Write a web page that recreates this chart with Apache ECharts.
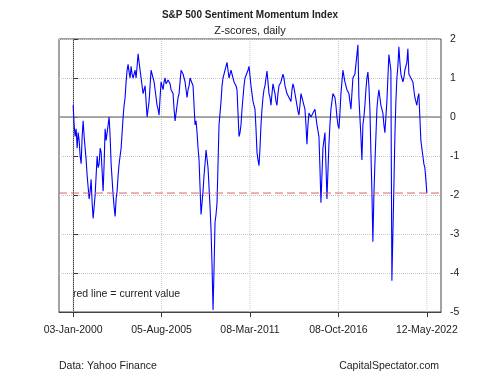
<!DOCTYPE html>
<html>
<head>
<meta charset="utf-8">
<script src="https://cdn.jsdelivr.net/npm/echarts@6/dist/echarts.min.js"></script>
<style>
  html, body { margin: 0; padding: 0; background: #fff; }
  #chart { width: 500px; height: 375px; }
</style>
</head>
<body>
<div id="chart"></div>
<script>
// z-score readings, evenly spaced trading days from 03-Jan-2000 to 12-May-2022
const zScores = [
  // 2000 - 2005
  0.3, -0.2, -0.5, -0.3, -0.8, -0.4, -0.6, -1.0, -1.2, -0.5,
  -0.1, -0.5, -0.8, -1.1, -1.5, -1.8, -2.1, -1.9, -1.6, -2.2,
  -2.6, -2.3, -2.0, -1.5, -1.0, -1.3, -1.2, -0.8, -0.9, -1.4,
  -1.9, -1.2, -0.3, -0.6, -0.4, -0.2, 0.0, -0.5, -1.2, -1.6,
  -2.0, -2.3, -2.55, -2.1, -1.9, -1.5, -1.2, -1.0, -0.8, -0.4,
  0.0, 0.3, 0.5, 0.9, 1.2, 1.35, 1.15, 1.0, 1.3, 1.1,
  1.0, 1.1, 1.2, 1.0, 1.3, 1.62, 1.4, 1.2, 1.0, 0.8,
  0.6, 0.7, 0.8, 0.4, 0.0, 0.2, 0.4, 0.8, 1.2, 1.1,
  1.0, 0.9, 0.7, 0.5, 0.3, 0.2, 0.05, 0.5, 0.9, 0.8,
  // 2005 - 2011
  0.7, 0.9, 1.0, 0.85, 0.8, 0.95, 1.0, 0.85, 0.7, 0.75,
  0.6, 0.2, -0.1, 0.1, 0.3, 0.5, 0.6, 0.9, 1.2, 1.15,
  1.1, 1.0, 0.9, 0.7, 0.5, 0.7, 0.8, 1.0, 1.05, 0.95,
  0.8, 0.3, -0.2, -0.1, -0.4, -0.8, -1.1, -1.8, -2.5, -2.2,
  -1.9, -1.5, -1.2, -0.85, -0.9, -1.3, -1.8, -2.3, -2.9, -3.8,
  -4.95, -3.9, -2.7, -2.5, -2.2, -1.2, -0.2, 0.1, 0.4, 0.8,
  1.0, 1.1, 1.2, 1.3, 1.4, 1.2, 1.0, 1.1, 1.2, 1.1,
  1.0, 0.9, 0.9, 0.8, 0.7, 0.1, -0.5, -0.4, -0.2, 0.2,
  0.5, 0.8, 1.0, 1.05, 1.0, 1.2, 1.3, 1.05,
  // 2011 - 2016
  0.8, 0.6, 0.4, 0.3, 0.2, -0.3, -0.9, -1.1, -1.25, -0.8,
  -0.2, 0.2, 0.5, 0.7, 0.8, 1.0, 1.18, 0.9, 0.6, 0.5,
  0.3, 0.6, 0.85, 0.8, 0.6, 0.4, 0.3, 0.6, 0.8, 0.85,
  0.9, 1.0, 1.1, 1.0, 0.8, 0.7, 0.6, 0.55, 0.5, 0.45,
  0.4, 0.7, 0.85, 0.75, 0.6, 0.45, 0.3, 0.15, 0.05, 0.3,
  0.6, 0.5, 0.4, 0.3, 0.2, -0.2, -0.7, -0.2, 0.1, 0.05,
  0.0, 0.05, 0.1, 0.15, 0.2, 0.0, -0.2, -0.35, -0.5, -1.3,
  -2.2, -1.5, -0.8, -0.6, -0.4, -1.2, -2.1, -1.4, -0.7, -0.2,
  0.2, 0.4, 0.6, 0.6, 0.5, 0.3,
  // 2016 - 2022
  0.0, -0.2, -0.3, 0.1, 0.6, 0.9, 1.2, 1.05, 0.9, 0.8,
  0.7, 0.65, 0.6, 0.4, 0.2, 0.6, 1.0, 1.05, 1.1, 1.35,
  1.6, 1.85, 0.5, 0.0, -0.5, -1.1, -0.2, 0.0, 0.3, 0.7,
  1.0, 1.15, 0.8, 0.2, -0.9, -1.9, -3.2, -2.0, -1.2, -0.5,
  0.2, 0.5, 0.7, 0.5, 0.3, 0.2, 0.1, -0.2, -0.4, 0.0,
  0.4, 1.0, 1.6, 1.4, 1.2, -4.2, -3.0, -1.8, -0.5, 0.4,
  1.0, 1.3, 1.8, 1.4, 1.1, 1.0, 0.9, 1.0, 1.2, 1.3,
  1.4, 1.75, 1.1, 1.05, 1.0, 0.95, 0.9, 0.7, 0.5, 0.4,
  0.3, 0.5, 0.6, 0.0, -0.6, -0.8, -1.0, -1.2, -1.3, -1.6,
  -1.95
];
const tickLabels = ['03-Jan-2000', '05-Aug-2005', '08-Mar-2011', '08-Oct-2016', '12-May-2022'];
const currentValue = zScores[zScores.length - 1];

const lastIdx = zScores.length - 1;
const tickVals = tickLabels.map((_, i) => lastIdx * i / (tickLabels.length - 1));
const pad = lastIdx * 0.04;
const yMin = -5, yMax = 2;

const font = "'Liberation Sans', Arial, sans-serif";
const chart = echarts.init(document.getElementById('chart'));

// plain line series used for reference lines (gaps separated by null)
const guide = (data, color, width, type, z) => ({
  type: 'line',
  data: data,
  showSymbol: false,
  connectNulls: false,
  silent: true,
  z: z,
  lineStyle: { color: color, width: width, type: type }
});

const vGrid = [];
tickVals.forEach(t => { vGrid.push([t, yMin], [t, yMax], null); });

chart.setOption({
  animation: false,
  title: [
    {
      text: 'S&P 500 Sentiment Momentum Index',
      left: 250, top: 10, textAlign: 'center', padding: 0,
      textStyle: { fontFamily: font, fontSize: 10, fontWeight: 'bold', color: '#222' }
    },
    {
      text: 'Z-scores, daily',
      left: 250, top: 25, textAlign: 'center', padding: 0,
      textStyle: { fontFamily: font, fontSize: 11, fontWeight: 'normal', color: '#222' }
    }
  ],
  grid: { left: 59, right: 59, top: 39, bottom: 63, show: true, borderColor: '#444', borderWidth: 1 },
  xAxis: {
    type: 'value',
    min: -pad,
    max: lastIdx + pad,
    axisLine: { show: true, onZero: false, lineStyle: { color: '#444' } },
    axisTick: { show: true, length: 5, customValues: tickVals, lineStyle: { color: '#333' } },
    axisLabel: {
      customValues: tickVals,
      margin: 13,
      fontFamily: font, fontSize: 10.5, color: '#222',
      formatter: v => {
        const i = tickVals.findIndex(t => Math.abs(t - v) < 1e-6);
        return i >= 0 ? tickLabels[i] : '';
      }
    },
    splitLine: { show: false }
  },
  yAxis: {
    type: 'value',
    position: 'right',
    min: yMin, max: yMax, interval: 1,
    axisLine: { show: true, lineStyle: { color: '#444' } },
    axisTick: { show: true, length: 5, lineStyle: { color: '#333' } },
    axisLabel: { margin: 9, fontFamily: font, fontSize: 10.5, color: '#222' },
    splitLine: { show: true, lineStyle: { color: '#c8c8c8', type: 'dotted' } }
  },
  graphic: [
    { type: 'text', left: 73, top: 289, style: { text: 'red line = current value', font: '10.5px ' + font, fill: '#222' } },
    { type: 'text', left: 59, top: 361, style: { text: 'Data: Yahoo Finance', font: '10.5px ' + font, fill: '#222' } },
    { type: 'text', right: 61, top: 361, style: { text: 'CapitalSpectator.com', font: '10.5px ' + font, fill: '#222' } }
  ],
  series: [
    guide(vGrid, '#c8c8c8', 1, 'dotted', 1),
    guide([[-pad, 0], [lastIdx + pad, 0]], '#8c8c8c', 1.6, 'solid', 2),
    {
      type: 'line',
      data: zScores.map((v, i) => [i, v]),
      showSymbol: false,
      lineStyle: { color: '#0000ff', width: 1.1 },
      z: 3
    },
    guide([[-pad, currentValue], [lastIdx + pad, currentValue]], '#e06060', 1, [8, 4], 4)
  ]
});
</script>
</body>
</html>
